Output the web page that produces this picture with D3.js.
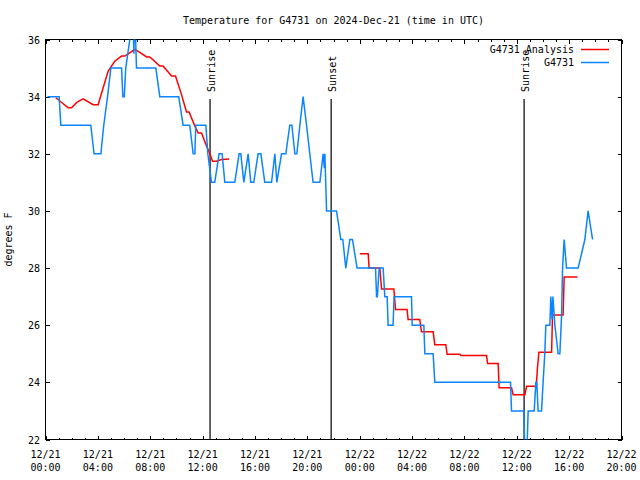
<!DOCTYPE html>
<html>
<head>
<meta charset="utf-8">
<script src="https://cdn.jsdelivr.net/npm/d3@7"></script>
<style>
  html, body { margin: 0; padding: 0; background: #fff; }
  svg { display: block; }
  text { font-family: "DejaVu Sans Mono", "Liberation Mono", monospace; font-size: 10px; fill: #000; }
</style>
</head>
<body>
<svg id="chart" width="640" height="480"></svg>
<script>
// ---------------- DATA ----------------
const chartTitle = "Temperature for G4731 on 2024-Dec-21 (time in UTC)";
const yLabel = "degrees F";
const seriesNames = ["G4731 Analysis", "G4731"];
const startDate = Date.UTC(2024, 11, 21, 0, 0);   // 12/21 00:00 UTC
const spanHours = 44;

// hours after 12/21 00:00 UTC
const xTickHours = [0, 4, 8, 12, 16, 20, 24, 28, 32, 36, 40, 44];
const yTicks = [22, 24, 26, 28, 30, 32, 34, 36];

// observations (G4731)
const obsHours = [0.15,1.04,1.17,3.46,3.71,4.23,4.45,4.74,4.99,5.81,5.91,6.02,6.13,6.44,6.67,6.75,6.82,6.95,8.43,8.73,
  10.18,10.51,11.02,11.28,11.41,11.48,12.25,12.40,12.68,12.93,13.26,13.49,13.70,14.46,14.79,14.92,15.15,15.48,15.68,15.91,
  16.24,16.45,16.75,17.27,17.52,17.67,18.03,18.36,18.66,18.82,19.05,19.20,19.43,19.68,19.94,20.19,20.44,20.96,21.21,21.30,
  21.34,21.47,22.23,22.56,22.71,22.94,23.25,23.45,23.80,25.21,25.29,25.35,25.49,25.79,25.92,26.10,26.17,26.55,26.63,27.96,
  28.01,28.90,28.98,29.61,29.74,35.52,35.60,36.54,36.62,36.77,36.87,37.33,37.46,37.53,37.63,37.89,38.01,38.14,38.22,38.53,
  38.60,38.70,38.76,38.91,39.16,39.29,39.42,39.50,39.62,39.80,40.69,41.20,41.45,41.79];
const obsTemps = [34,34,33,33,32,32,33,34,35,35,34,34,35,36,37,35.5,37,35,35,34,
  34,33,33,32,32,33,33,32,31,31,32,32,31,31,32,32,31,32,31,31,
  32,32,31,31,32,31,32,32,33,33,32,32,33,34,33,32,31,31,32,31.5,
  32,30,30,29,29,28,29,29,28,28,27,27,28,28,27,27,26,26,27,27,
  26,26,25,25,24,24,23,23,21.5,21.5,23,23,24,24,23,23,24,25,26,26,
  27,26.2,27,26,25,25,26.3,28,29,28,28,29,30,29];

// analysis (G4731 Analysis); null marks a gap
const anaHours = [0.79,1.73,1.99,2.39,2.87,3.64,4.02,4.78,5.29,5.81,6.06,6.82,7.20,7.72,7.97,8.73,8.98,9.63,9.93,10.39,
  10.77,10.97,11.41,11.66,11.92,12.30,12.50,12.76,13.06,13.45,14.03,19.00,
  24.01,24.65,24.72,25.54,25.67,26.61,26.74,27.62,27.70,28.59,28.72,29.61,29.74,30.58,30.68,31.65,31.73,33.69,
  33.77,34.58,34.65,35.60,35.72,36.62,36.75,37.49,37.57,37.69,38.66,38.73,39.54,39.62,40.64];
const anaTemps = [33.96,33.61,33.61,33.80,33.92,33.72,33.72,34.89,35.24,35.42,35.42,35.65,35.55,35.39,35.39,35.07,35.07,34.72,34.72,34.07,
  33.46,33.46,32.97,32.73,32.73,32.27,32.06,31.74,31.74,31.80,31.82,null,
  28.50,28.50,28.00,28.00,27.27,27.27,26.55,26.55,26.20,26.20,25.77,25.77,25.32,25.32,24.98,24.98,24.94,24.94,
  24.66,24.66,23.81,23.81,23.57,23.57,23.86,23.86,24.45,25.05,25.05,26.36,26.36,27.69,27.69];

// sun events
const eventNames = ["Sunrise", "Sunset", "Sunrise"];
const eventHours = [12.57, 21.82, 36.56];

// ---------------- DRAW ----------------
const H = 3600e3;
const toDate = h => new Date(startDate + h * H);
const L = 45.5, R = 621.5, T = 39.5, B = 439.5;
const colors = { ana: "#ff0000", obs: "#0a84ff" };

const svg = d3.select("#chart");
const x = d3.scaleUtc().domain([toDate(0), toDate(spanHours)]).range([L, R]);
const y = d3.scaleLinear().domain([22, 36]).range([B, T]);

svg.append("defs").append("clipPath").attr("id", "plotclip")
  .append("rect").attr("x", L).attr("y", T).attr("width", R - L).attr("height", B - T);

// title
svg.append("text").attr("x", (L + R) / 2).attr("y", 23.5).attr("text-anchor", "middle").text(chartTitle);

// y label
svg.append("text").attr("transform", `translate(11.5,${(T + B) / 2}) rotate(-90)`)
  .attr("text-anchor", "middle").text(yLabel);

// axes
const majorDates = xTickHours.map(toDate);
const minorDates = d3.range(0, spanHours + 1).filter(h => h % 4 !== 0).map(toDate);
function styleAxis(g) {
  g.select(".domain").remove();
  g.selectAll("line").attr("stroke", "#000").attr("shape-rendering", "crispEdges");
  g.attr("font-family", null).attr("font-size", null);
}
svg.append("g").attr("transform", `translate(0,${B})`)
  .call(d3.axisBottom(x).tickValues(majorDates).tickSize(-4).tickFormat("")).call(styleAxis);
svg.append("g").attr("transform", `translate(0,${B})`)
  .call(d3.axisBottom(x).tickValues(minorDates).tickSize(-2).tickFormat("")).call(styleAxis);
svg.append("g").attr("transform", `translate(0,${T})`)
  .call(d3.axisTop(x).tickValues(majorDates).tickSize(-4).tickFormat("")).call(styleAxis);
svg.append("g").attr("transform", `translate(0,${T})`)
  .call(d3.axisTop(x).tickValues(minorDates).tickSize(-2).tickFormat("")).call(styleAxis);
svg.append("g").attr("transform", `translate(${L},0)`)
  .call(d3.axisLeft(y).tickValues(yTicks).tickSize(-4).tickPadding(5.5).tickFormat(d3.format("d"))).call(styleAxis)
  .selectAll("text").attr("dy", "0.35em");
svg.append("g").attr("transform", `translate(${R},0)`)
  .call(d3.axisRight(y).tickValues(yTicks).tickSize(-4).tickFormat("")).call(styleAxis);

// x tick labels (two lines)
const fDay = d3.utcFormat("%m/%d"), fTime = d3.utcFormat("%H:%M");
const xl = svg.append("g").selectAll("g").data(majorDates).join("g")
  .attr("transform", d => `translate(${x(d)},0)`);
xl.append("text").attr("y", 457.5).attr("text-anchor", "middle").text(d => fDay(d));
xl.append("text").attr("y", 471).attr("text-anchor", "middle").text(d => fTime(d));

// border
svg.append("rect").attr("x", L).attr("y", T).attr("width", R - L).attr("height", B - T)
  .attr("fill", "none").attr("stroke", "#000").attr("stroke-width", 1).attr("shape-rendering", "crispEdges");

// sun event lines
const evTop = 33.92;
const ev = svg.append("g").selectAll("g").data(eventHours.map((h, i) => ({ h, name: eventNames[i] }))).join("g");
ev.append("line")
  .attr("x1", d => x(toDate(d.h))).attr("x2", d => x(toDate(d.h)))
  .attr("y1", y(evTop)).attr("y2", B).attr("stroke", "#000").attr("stroke-width", 1.2);
ev.append("text")
  .attr("transform", d => `translate(${x(toDate(d.h)) + 4.8},${y(evTop) - 7}) rotate(-90)`)
  .attr("text-anchor", "start").text(d => d.name);

// series
const obs = obsHours.map((h, i) => ({ t: toDate(h), v: obsTemps[i] }));
const ana = anaHours.map((h, i) => ({ t: toDate(h), v: anaTemps[i] }));
const line = d3.line().defined(d => d.v != null).x(d => x(d.t)).y(d => y(d.v));
const plot = svg.append("g").attr("clip-path", "url(#plotclip)");
plot.append("path").datum(ana).attr("d", line).attr("fill", "none")
  .attr("stroke", colors.ana).attr("stroke-width", 1.5);
plot.append("path").datum(obs).attr("d", line).attr("fill", "none")
  .attr("stroke", colors.obs).attr("stroke-width", 1.5);

// legend
const legend = [{ name: seriesNames[0], c: colors.ana, yy: 49.5 }, { name: seriesNames[1], c: colors.obs, yy: 62.5 }];
const lg = svg.append("g").selectAll("g").data(legend).join("g");
lg.append("text").attr("x", 574).attr("y", d => d.yy + 3.8).attr("text-anchor", "end").text(d => d.name);
lg.append("line").attr("x1", 581).attr("x2", 609).attr("y1", d => d.yy).attr("y2", d => d.yy)
  .attr("stroke", d => d.c).attr("stroke-width", 1.5);
</script>
</body>
</html>
